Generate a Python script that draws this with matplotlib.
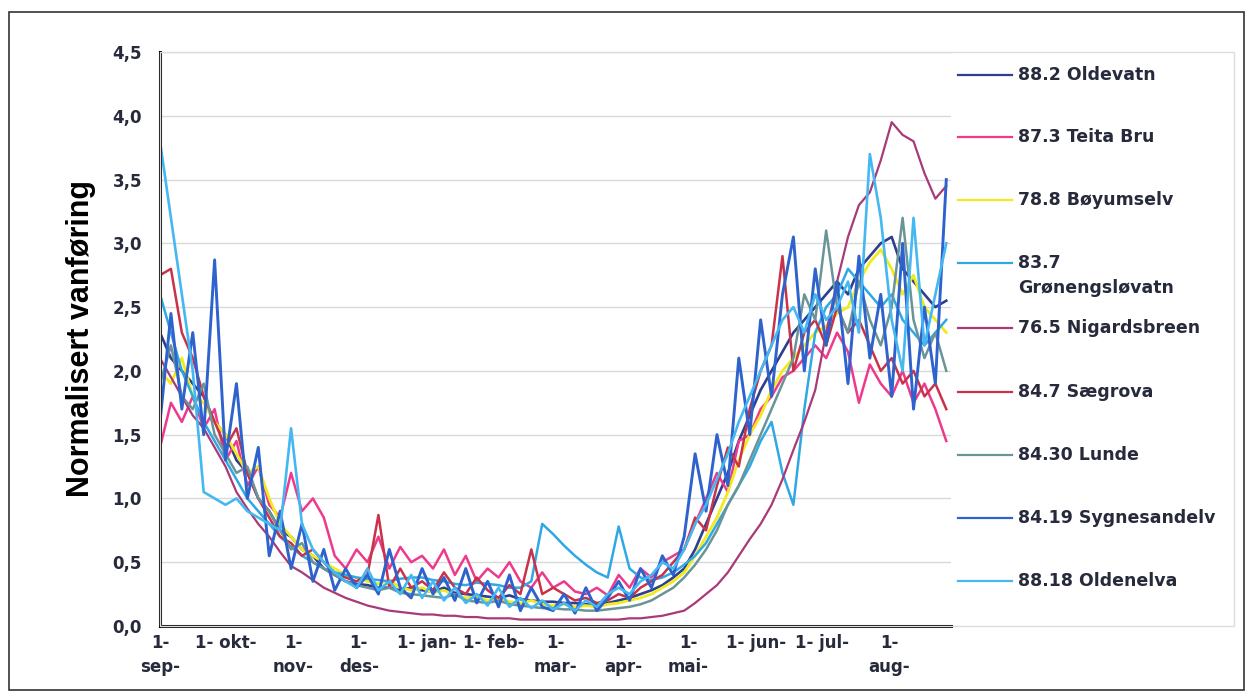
import matplotlib.pyplot as plt
import matplotlib.patches as patches
from matplotlib.lines import Line2D
import numpy as np

# day numbers from 1 September, one reading every 5 days
days = np.arange(0, 365, 5)

month_starts = [0, 30, 61, 91, 122, 153, 181, 212, 242, 273, 303, 334]
month_labels = ['1-\nsep-', '1- okt-', '1-\nnov-', '1-\ndes-', '1- jan-', '1- feb-',
                '1-\nmar-', '1-\napr-', '1-\nmai-', '1- jun-', '1- jul-', '1-\naug-']

oldevatn = [2.3, 2.1, 2.0, 1.9, 1.8, 1.6,
            1.5, 1.3, 1.2, 1.0, 0.9, 0.75,
            0.7, 0.6, 0.55, 0.45, 0.4, 0.35,
            0.33, 0.32, 0.3, 0.3, 0.28, 0.3,
            0.28, 0.27, 0.3, 0.26, 0.25, 0.24,
            0.23, 0.22, 0.24, 0.21, 0.2, 0.19,
            0.19, 0.18, 0.18, 0.17, 0.17, 0.18,
            0.2, 0.22, 0.25, 0.28, 0.32, 0.38,
            0.45, 0.6, 0.8, 1.0, 1.2, 1.45,
            1.65, 1.85, 2.0, 2.15, 2.3, 2.4,
            2.5, 2.6, 2.7, 2.6, 2.8, 2.9,
            3.0, 3.05, 2.8, 2.7, 2.6, 2.5, 2.55]

teita_bru = [1.4, 1.75, 1.6, 1.8, 1.55, 1.7,
             1.3, 1.45, 1.1, 1.25, 0.95, 0.85,
             1.2, 0.9, 1.0, 0.85, 0.55, 0.45,
             0.6, 0.5, 0.7, 0.45, 0.62, 0.5,
             0.55, 0.45, 0.6, 0.4, 0.55, 0.35,
             0.45, 0.38, 0.5, 0.35, 0.3, 0.42,
             0.3, 0.35, 0.27, 0.25, 0.3, 0.24,
             0.4, 0.3, 0.45, 0.38, 0.5, 0.55,
             0.6, 0.8, 1.0, 1.2, 1.05, 1.45,
             1.5, 1.7, 1.8, 1.95, 2.0, 2.1,
             2.2, 2.1, 2.3, 2.15, 1.75, 2.05,
             1.9, 1.8, 2.0, 1.75, 1.9, 1.7, 1.45]

boyumselv = [2.0, 1.9, 2.1, 1.8, 1.75, 1.6,
             1.5, 1.35, 1.2, 1.25, 1.0, 0.8,
             0.7, 0.6, 0.55, 0.5, 0.45, 0.4,
             0.38, 0.35, 0.33, 0.36, 0.3, 0.28,
             0.3, 0.26, 0.28, 0.24, 0.22, 0.23,
             0.2, 0.22, 0.19, 0.18, 0.2, 0.17,
             0.16, 0.17, 0.15, 0.16, 0.15, 0.17,
             0.18, 0.2, 0.22, 0.25, 0.3, 0.35,
             0.42, 0.55, 0.7, 0.85, 1.05, 1.3,
             1.5, 1.65, 1.85, 2.0, 2.1, 2.2,
             2.3, 2.35, 2.45, 2.5, 2.7, 2.85,
             2.95, 2.8, 2.6, 2.75, 2.5, 2.4, 2.3]

gronengslovatn = [2.6, 2.3, 2.0, 1.8, 1.6, 1.45,
                  1.3, 1.15, 1.0, 0.9, 0.8, 0.7,
                  0.62, 0.55, 0.5, 0.45, 0.42, 0.4,
                  0.38, 0.37, 0.36, 0.35, 0.37, 0.38,
                  0.38, 0.36, 0.35, 0.33, 0.32, 0.34,
                  0.33, 0.32, 0.3, 0.3, 0.35, 0.8,
                  0.72, 0.63, 0.55, 0.48, 0.42, 0.38,
                  0.78, 0.45, 0.38, 0.36, 0.38, 0.42,
                  0.48, 0.55, 0.65, 0.8, 0.95, 1.1,
                  1.25, 1.45, 1.6, 1.2, 0.95, 1.7,
                  2.3, 2.5, 2.6, 2.8, 2.7, 2.6,
                  2.5, 2.6, 2.4, 2.3, 2.2, 2.3, 2.4]

nigardsbreen = [2.1, 1.95, 1.8, 1.65, 1.55, 1.4,
                1.25, 1.05, 0.92, 0.8, 0.7, 0.58,
                0.47, 0.42, 0.36, 0.3, 0.26, 0.22,
                0.19, 0.16, 0.14, 0.12, 0.11, 0.1,
                0.09, 0.09, 0.08, 0.08, 0.07, 0.07,
                0.06, 0.06, 0.06, 0.05, 0.05, 0.05,
                0.05, 0.05, 0.05, 0.05, 0.05, 0.05,
                0.05, 0.06, 0.06, 0.07, 0.08, 0.1,
                0.12, 0.18, 0.25, 0.32, 0.42, 0.55,
                0.68, 0.8, 0.95, 1.15, 1.38, 1.6,
                1.85, 2.3, 2.7, 3.05, 3.3, 3.4,
                3.65, 3.95, 3.85, 3.8, 3.55, 3.35, 3.45]

saegrova = [2.75, 2.8, 2.3, 2.1, 1.8, 1.6,
            1.4, 1.55, 1.2, 1.0, 0.85, 0.7,
            0.65, 0.55, 0.6, 0.5, 0.4, 0.38,
            0.35, 0.4, 0.87, 0.3, 0.45, 0.3,
            0.35, 0.28, 0.42, 0.3, 0.25, 0.38,
            0.28, 0.22, 0.32, 0.25, 0.6, 0.25,
            0.3, 0.25, 0.2, 0.22, 0.18, 0.2,
            0.25, 0.22, 0.3, 0.35, 0.4, 0.5,
            0.6, 0.85, 0.75, 1.1, 1.4, 1.25,
            1.7, 2.0, 2.2, 2.9, 2.0, 2.3,
            2.4, 2.2, 2.5, 2.3, 2.4, 2.2,
            2.0, 2.1, 1.9, 2.0, 1.8, 1.9, 1.7]

lunde = [1.9, 2.2, 1.8, 1.7, 1.9, 1.5,
         1.35, 1.2, 1.25, 1.0, 0.9, 0.75,
         0.6, 0.65, 0.5, 0.45, 0.4, 0.35,
         0.32, 0.3, 0.28, 0.3, 0.26, 0.25,
         0.24, 0.23, 0.22, 0.25, 0.2, 0.19,
         0.18, 0.2, 0.17, 0.16, 0.15, 0.14,
         0.14, 0.13, 0.13, 0.12, 0.12, 0.13,
         0.14, 0.15, 0.17, 0.2, 0.25, 0.3,
         0.38, 0.48, 0.6, 0.75, 0.95, 1.1,
         1.3, 1.5, 1.7, 1.9, 2.1, 2.6,
         2.4, 3.1, 2.5, 2.3, 2.7, 2.4,
         2.2, 2.5, 3.2, 2.4, 2.1, 2.3, 2.0]

sygnesandelv = [1.6, 2.45, 1.7, 2.3, 1.5, 2.87,
                1.3, 1.9, 1.0, 1.4, 0.55, 0.9,
                0.45, 0.8, 0.35, 0.6, 0.28, 0.45,
                0.3, 0.4, 0.25, 0.6, 0.3, 0.22,
                0.45, 0.25, 0.38, 0.2, 0.45, 0.18,
                0.35, 0.15, 0.4, 0.12, 0.3, 0.15,
                0.12, 0.25, 0.1, 0.3, 0.12, 0.22,
                0.35, 0.2, 0.45, 0.3, 0.55, 0.4,
                0.7, 1.35, 0.9, 1.5, 1.1, 2.1,
                1.5, 2.4, 1.8, 2.6, 3.05, 2.0,
                2.8, 2.2, 2.7, 1.9, 2.9, 2.1,
                2.6, 1.8, 3.0, 1.7, 2.5, 1.9, 3.5]

oldenelva = [3.8, 3.2, 2.6, 2.0, 1.05, 1.0,
             0.95, 1.0, 0.9, 0.85, 0.8, 0.75,
             1.55, 0.8, 0.6, 0.5, 0.42, 0.35,
             0.3, 0.45, 0.28, 0.35, 0.25, 0.4,
             0.22, 0.35, 0.2, 0.3, 0.18, 0.25,
             0.16, 0.3, 0.15, 0.22, 0.14, 0.2,
             0.13, 0.18, 0.12, 0.2, 0.15, 0.25,
             0.3, 0.25, 0.35, 0.4, 0.5, 0.45,
             0.6, 0.8, 0.95, 1.15, 1.35, 1.6,
             1.8, 2.0, 2.2, 2.4, 2.5, 2.3,
             2.6, 2.4, 2.5, 2.7, 2.3, 3.7,
             3.2, 2.4, 2.0, 3.2, 2.2, 2.6, 3.0]

series = [
    ('88.2 Oldevatn', oldevatn, '#2d3f8e', 1.9),
    ('87.3 Teita Bru', teita_bru, '#ee3a8c', 1.8),
    ('78.8 Bøyumselv', boyumselv, '#f2ea1c', 2.0),
    ('83.7\nGrønengsløvatn', gronengslovatn, '#2fa8e4', 1.8),
    ('76.5 Nigardsbreen', nigardsbreen, '#a83a78', 1.6),
    ('84.7 Sægrova', saegrova, '#c8324a', 1.8),
    ('84.30 Lunde', lunde, '#6a9498', 1.8),
    ('84.19 Sygnesandelv', sygnesandelv, '#2e62cc', 2.1),
    ('88.18 Oldenelva', oldenelva, '#45b8f2', 1.9),
]

text_color = '#262a3a'
W, H = 1253, 698

fig = plt.figure(figsize=(W / 100, H / 100), dpi=100)
ax = fig.add_axes([0.1277, 0.1032, 0.631, 0.8223])

for name, vals, col, lw in series:
    ax.plot(days, vals, color=col, linewidth=lw)

ax.set_xlim(0, 362)
ax.set_ylim(0, 4.5)
yt = np.arange(0, 4.51, 0.5)
ax.set_yticks(yt)
ax.set_yticklabels([f'{v:.1f}'.replace('.', ',') for v in yt])
ax.set_xticks(month_starts)
ax.set_xticklabels(month_labels, linespacing=1.4)
ax.tick_params(axis='y', length=0, pad=13, labelsize=12, labelcolor=text_color)
ax.tick_params(axis='x', length=0, pad=6, labelsize=12, labelcolor=text_color)
for lab in ax.get_xticklabels() + ax.get_yticklabels():
    lab.set_fontweight('bold')

ax.grid(axis='y', color='#d9d9d9', linewidth=1)
ax.set_axisbelow(True)
for side in ['top', 'right']:
    ax.spines[side].set_visible(False)
for side in ['left', 'bottom']:
    ax.spines[side].set_linewidth(2.2)
    ax.spines[side].set_color('black')

ax.set_ylabel('Normalisert vanføring', fontsize=22, fontweight='bold',
              family='Liberation Sans', color='black', labelpad=12)

# legend column on the right, one entry per station
entry_top = [75, 137, 200, 263, 328, 392, 455, 518, 581]
for (name, vals, col, lw), ypx in zip(series, entry_top):
    yf = 1 - ypx / H
    fig.add_artist(Line2D([958 / W, 1012 / W], [yf, yf], color=col, linewidth=1.6,
                          transform=fig.transFigure))
    for k, part in enumerate(name.split('\n')):
        fig.text(1018 / W, 1 - (ypx + 25 * k) / H, part, fontsize=12.5, fontweight='bold',
                 color=text_color, va='center', ha='left')

# faint chart-area box and the outer frame
fig.patches.append(patches.Rectangle((0.128, 0.1032), 0.857, 0.8223, transform=fig.transFigure,
                                     fill=False, edgecolor='#dddddd', linewidth=1))
fig.patches.append(patches.Rectangle((0.007, 0.012), 0.986, 0.971, transform=fig.transFigure,
                                     fill=False, edgecolor='#333333', linewidth=1.2))

fig.savefig('out.png', dpi=100)
